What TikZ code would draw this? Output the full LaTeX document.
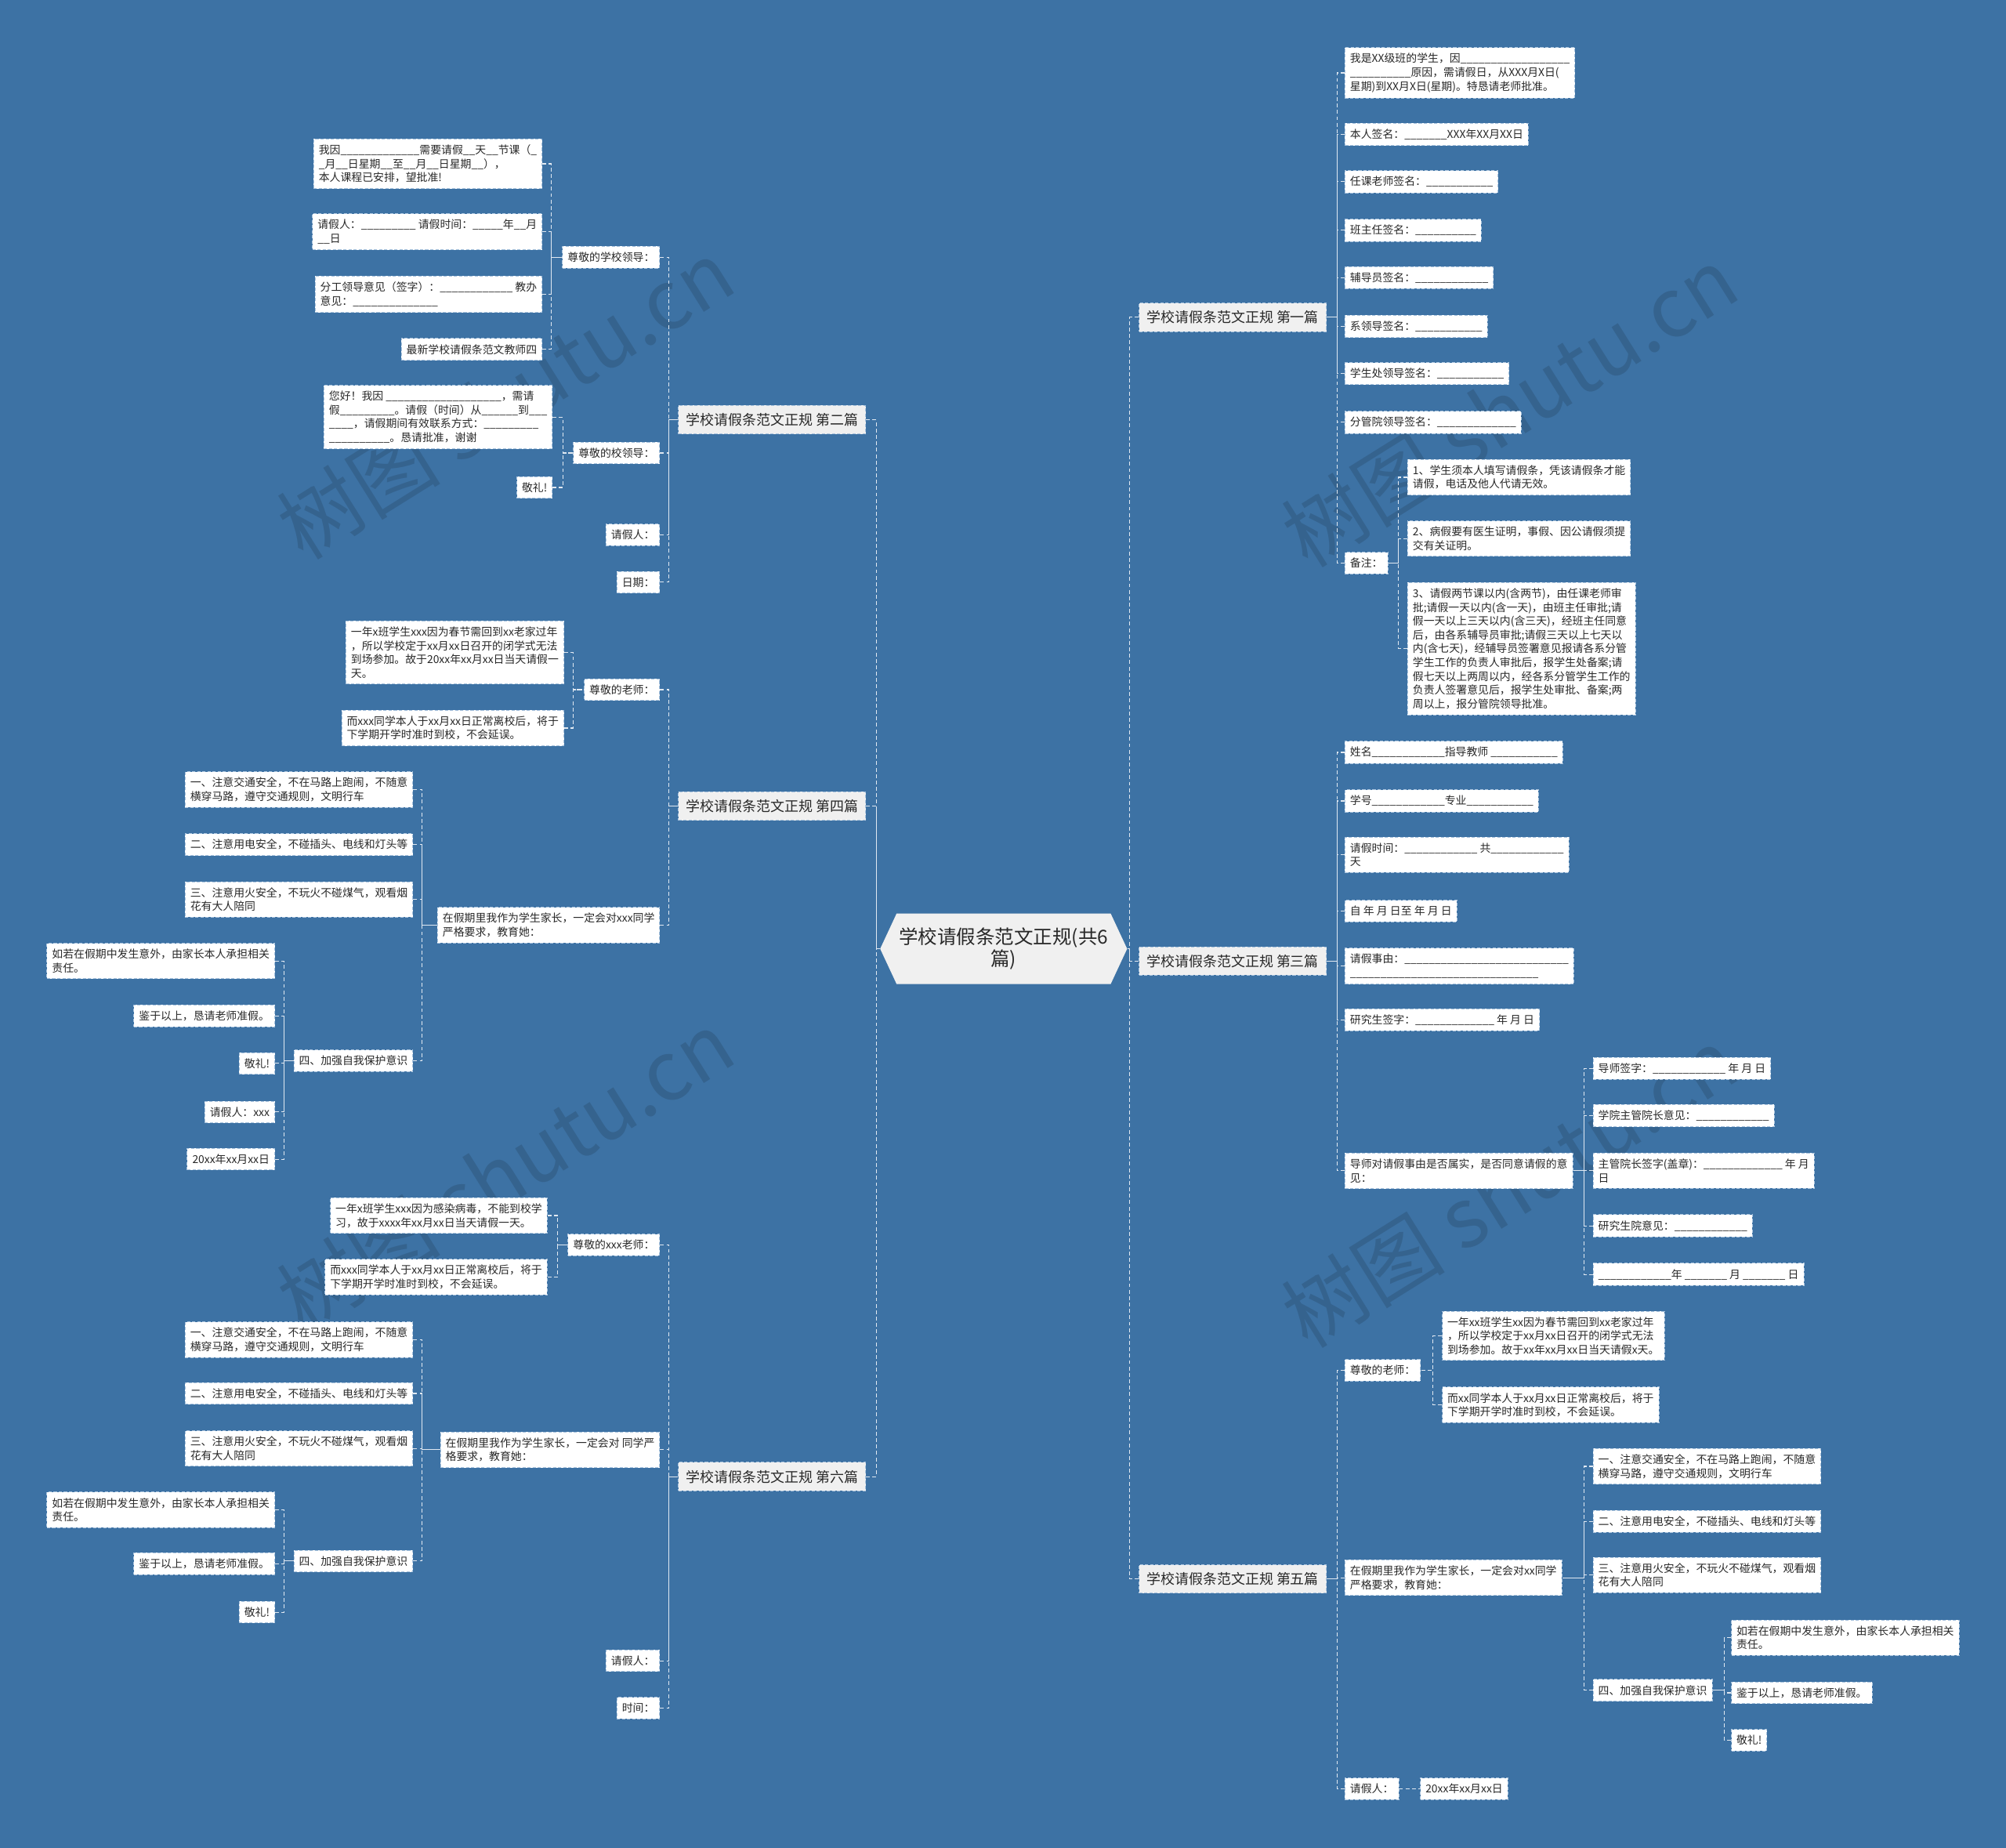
\documentclass[tikz,border=0pt]{standalone}
\usepackage{fontspec}
\setmainfont{Noto Sans CJK SC}
\usepackage{tikz}
\usetikzlibrary{shapes.symbols}
\definecolor{mapblue}{RGB}{61,114,164}
\definecolor{boxedge}{RGB}{170,196,222}
\definecolor{linkgray}{RGB}{225,233,242}
\definecolor{topicgray}{RGB}{240,240,240}
\definecolor{inkgray}{RGB}{40,40,40}
\ExplSyntaxOn
\cs_new:Npn \fillin #1 { \prg_replicate:nn {#1} { \_ } }
\ExplSyntaxOff

\begin{document}
\begin{tikzpicture}[x=1pt,y=-1pt,
    leaf/.style={draw=boxedge,fill=white,text=inkgray,line width=0.6pt,
      dash pattern=on 2.5pt off 1.5pt,align=left,inner xsep=4pt,inner ysep=4.5pt,
      font=\fontsize{8.5}{10.8}\selectfont},
    branch/.style={leaf,fill=topicgray,inner xsep=6pt,inner ysep=6pt,
      font=\fontsize{11}{13}\selectfont},
    topic/.style={signal,signal to=east and west,signal pointer angle=130,
      fill=topicgray,text=inkgray,align=center,minimum width=178pt,
      minimum height=55pt,inner sep=2pt,font=\fontsize{15}{17}\selectfont},
    link/.style={draw=linkgray,line width=0.7pt,dash pattern=on 3pt off 2pt},
    wmark/.style={text=black,opacity=0.13,rotate=32,font=\fontsize{64}{64}\selectfont}]
  \useasboundingbox (0,0) rectangle (1568,1444);
  \fill[mapblue] (0,0) rectangle (1568,1444);

  % watermarks
  \node[wmark] (wm1) at (395,312) {树图 shutu.cn};
  \node[wmark] (wm2) at (1180,318) {树图 shutu.cn};
  \node[wmark] (wm3) at (395,915) {树图 shutu.cn};
  \node[wmark] (wm4) at (1180,928) {树图 shutu.cn};

  % centre and the six pieces
  \node[topic] (root) at (784.5,741.5) {学校请假条范文正规(共6\\篇)};
  \node[branch,anchor=west] (s1) at (890,248) {学校请假条范文正规 第一篇};
  \node[branch,anchor=west] (s3) at (890,751) {学校请假条范文正规 第三篇};
  \node[branch,anchor=west] (s5) at (890,1234) {学校请假条范文正规 第五篇};
  \node[branch,anchor=east] (s2) at (677,328) {学校请假条范文正规 第二篇};
  \node[branch,anchor=east] (s4) at (677,630) {学校请假条范文正规 第四篇};
  \node[branch,anchor=east] (s6) at (677,1154) {学校请假条范文正规 第六篇};

  % first piece
  \node[leaf,anchor=west] (s1a) at (1051,57) {我是XX级班的学生，因\fillin{18}\\\fillin{10}原因，需请假日，从XXX月X日(\\星期)到XX月X日(星期)。特恳请老师批准。};
  \node[leaf,anchor=west] (s1b) at (1051,105) {本人签名：\fillin{7}XXX年XX月XX日};
  \node[leaf,anchor=west] (s1c) at (1051,142) {任课老师签名：\fillin{11}};
  \node[leaf,anchor=west] (s1d) at (1051,180) {班主任签名：\fillin{10}};
  \node[leaf,anchor=west] (s1e) at (1051,217) {辅导员签名：\fillin{12}};
  \node[leaf,anchor=west] (s1f) at (1051,255) {系领导签名：\fillin{11}};
  \node[leaf,anchor=west] (s1g) at (1051,292) {学生处领导签名：\fillin{11}};
  \node[leaf,anchor=west] (s1h) at (1051,330) {分管院领导签名：\fillin{13}};
  \node[leaf,anchor=west] (s1i) at (1051,440) {备注：};
  \node[leaf,anchor=west] (n1) at (1100,373) {1、学生须本人填写请假条，凭该请假条才能\\请假，电话及他人代请无效。};
  \node[leaf,anchor=west] (n2) at (1100,421) {2、病假要有医生证明，事假、因公请假须提\\交有关证明。};
  \node[leaf,anchor=west] (n3) at (1100,507) {3、请假两节课以内(含两节)，由任课老师审\\批;请假一天以内(含一天)，由班主任审批;请\\假一天以上三天以内(含三天)，经班主任同意\\后，由各系辅导员审批;请假三天以上七天以\\内(含七天)，经辅导员签署意见报请各系分管\\学生工作的负责人审批后，报学生处备案;请\\假七天以上两周以内，经各系分管学生工作的\\负责人签署意见后，报学生处审批、备案;两\\周以上，报分管院领导批准。};

  % third piece
  \node[leaf,anchor=west] (t1) at (1051,588) {姓名\fillin{12}指导教师 \fillin{11}};
  \node[leaf,anchor=west] (t2) at (1051,626) {学号\fillin{12}专业\fillin{11}};
  \node[leaf,anchor=west] (t3) at (1051,668) {请假时间：\fillin{12} 共\fillin{12}\\天};
  \node[leaf,anchor=west] (t4) at (1051,712) {自 年 月 日至 年 月 日};
  \node[leaf,anchor=west] (t5) at (1051,755) {请假事由：\fillin{27}\\\fillin{31}};
  \node[leaf,anchor=west] (t6) at (1051,797) {研究生签字：\fillin{13} 年 月 日};
  \node[leaf,anchor=west] (t7) at (1051,915) {导师对请假事由是否属实，是否同意请假的意\\见：};
  \node[leaf,anchor=west] (u1) at (1245,835) {导师签字：\fillin{12} 年 月 日};
  \node[leaf,anchor=west] (u2) at (1245,872) {学院主管院长意见：\fillin{12}};
  \node[leaf,anchor=west] (u3) at (1245,915) {主管院长签字(盖章)：\fillin{13} 年 月\\日};
  \node[leaf,anchor=west] (u4) at (1245,958) {研究生院意见：\fillin{12}};
  \node[leaf,anchor=west] (u5) at (1245,996) {\fillin{12}年 \fillin{7} 月 \fillin{7} 日};

  % fifth piece
  \node[leaf,anchor=west] (f1) at (1051,1071) {尊敬的老师：};
  \node[leaf,anchor=west] (f1a) at (1127,1044) {一年xx班学生xx因为春节需回到xx老家过年\\，所以学校定于xx月xx日召开的闭学式无法\\到场参加。故于xx年xx月xx日当天请假x天。};
  \node[leaf,anchor=west] (f1b) at (1127,1098) {而xx同学本人于xx月xx日正常离校后，将于\\下学期开学时准时到校，不会延误。};
  \node[leaf,anchor=west] (f2) at (1051,1233) {在假期里我作为学生家长，一定会对xx同学\\严格要求，教育她：};
  \node[leaf,anchor=west] (f2a) at (1245,1146) {一、注意交通安全，不在马路上跑闹，不随意\\横穿马路，遵守交通规则，文明行车};
  \node[leaf,anchor=west] (f2b) at (1245,1189) {二、注意用电安全，不碰插头、电线和灯头等};
  \node[leaf,anchor=west] (f2c) at (1245,1231) {三、注意用火安全，不玩火不碰煤气，观看烟\\花有大人陪同};
  \node[leaf,anchor=west] (f2d) at (1245,1321) {四、加强自我保护意识};
  \node[leaf,anchor=west] (f2d1) at (1353,1280) {如若在假期中发生意外，由家长本人承担相关\\责任。};
  \node[leaf,anchor=west] (f2d2) at (1353,1323) {鉴于以上，恳请老师准假。};
  \node[leaf,anchor=west] (f2d3) at (1353,1360) {敬礼!};
  \node[leaf,anchor=west] (f3) at (1051,1398) {请假人：};
  \node[leaf,anchor=west] (f3a) at (1110,1398) {20xx年xx月xx日};

  % second piece
  \node[leaf,anchor=east] (e1) at (516,201) {尊敬的学校领导：};
  \node[leaf,anchor=east] (e1a) at (424,128) {我因\fillin{13}需要请假\fillin{2}天\fillin{2}节课（\_\\\_月\fillin{2}日星期\fillin{2}至\fillin{2}月\fillin{2}日星期\fillin{2}），\\本人课程已安排，望批准!};
  \node[leaf,anchor=east] (e1b) at (424,181) {请假人：\fillin{9} 请假时间：\fillin{5}年\fillin{2}月\\\fillin{2}日};
  \node[leaf,anchor=east] (e1c) at (424,230) {分工领导意见（签字）：\fillin{12} 教办\\意见：\fillin{14}};
  \node[leaf,anchor=east] (e1d) at (424,273) {最新学校请假条范文教师四};
  \node[leaf,anchor=east] (e2) at (516,354) {尊敬的校领导：};
  \node[leaf,anchor=east] (e2a) at (432,326) {您好！我因 \fillin{19}，需请\\假\fillin{9}。请假（时间）从\fillin{6}到\fillin{3}\\\fillin{4}，请假期间有效联系方式：\fillin{9}\\\fillin{10}。恳请批准，谢谢};
  \node[leaf,anchor=east] (e2b) at (432,381) {敬礼!};
  \node[leaf,anchor=east] (e3) at (516,418) {请假人：};
  \node[leaf,anchor=east] (e4) at (516,455) {日期：};

  % fourth piece
  \node[leaf,anchor=east] (g1) at (516,539) {尊敬的老师：};
  \node[leaf,anchor=east] (g1a) at (441,510) {一年x班学生xxx因为春节需回到xx老家过年\\，所以学校定于xx月xx日召开的闭学式无法\\到场参加。故于20xx年xx月xx日当天请假一\\天。};
  \node[leaf,anchor=east] (g1b) at (441,569) {而xxx同学本人于xx月xx日正常离校后，将于\\下学期开学时准时到校，不会延误。};
  \node[leaf,anchor=east] (g2) at (516,723) {在假期里我作为学生家长，一定会对xxx同学\\严格要求，教育她：};
  \node[leaf,anchor=east] (g2a) at (323,617) {一、注意交通安全，不在马路上跑闹，不随意\\横穿马路，遵守交通规则，文明行车};
  \node[leaf,anchor=east] (g2b) at (323,660) {二、注意用电安全，不碰插头、电线和灯头等};
  \node[leaf,anchor=east] (g2c) at (323,703) {三、注意用火安全，不玩火不碰煤气，观看烟\\花有大人陪同};
  \node[leaf,anchor=east] (g2d) at (323,829) {四、加强自我保护意识};
  \node[leaf,anchor=east] (g2d1) at (215,751) {如若在假期中发生意外，由家长本人承担相关\\责任。};
  \node[leaf,anchor=east] (g2d2) at (215,794) {鉴于以上，恳请老师准假。};
  \node[leaf,anchor=east] (g2d3) at (215,831) {敬礼!};
  \node[leaf,anchor=east] (g2d4) at (215,869) {请假人：xxx};
  \node[leaf,anchor=east] (g2d5) at (215,906) {20xx年xx月xx日};

  % sixth piece
  \node[leaf,anchor=east] (h1) at (516,973) {尊敬的xxx老师：};
  \node[leaf,anchor=east] (h1a) at (428,950) {一年x班学生xxx因为感染病毒，不能到校学\\习，故于xxxx年xx月xx日当天请假一天。};
  \node[leaf,anchor=east] (h1b) at (428,998) {而xxx同学本人于xx月xx日正常离校后，将于\\下学期开学时准时到校，不会延误。};
  \node[leaf,anchor=east] (h2) at (516,1133) {在假期里我作为学生家长，一定会对 同学严\\格要求，教育她：};
  \node[leaf,anchor=east] (h2a) at (323,1047) {一、注意交通安全，不在马路上跑闹，不随意\\横穿马路，遵守交通规则，文明行车};
  \node[leaf,anchor=east] (h2b) at (323,1089) {二、注意用电安全，不碰插头、电线和灯头等};
  \node[leaf,anchor=east] (h2c) at (323,1132) {三、注意用火安全，不玩火不碰煤气，观看烟\\花有大人陪同};
  \node[leaf,anchor=east] (h2d) at (323,1220) {四、加强自我保护意识};
  \node[leaf,anchor=east] (h2d1) at (215,1180) {如若在假期中发生意外，由家长本人承担相关\\责任。};
  \node[leaf,anchor=east] (h2d2) at (215,1222) {鉴于以上，恳请老师准假。};
  \node[leaf,anchor=east] (h2d3) at (215,1260) {敬礼!};
  \node[leaf,anchor=east] (h3) at (516,1298) {请假人：};
  \node[leaf,anchor=east] (h4) at (516,1335) {时间：};

  % connectors, right side
  \foreach \c in {s1,s3,s5}
    \draw[link] (\c.west) -- ++(-7,0) |- (root.east);
  \foreach \c in {s1a,s1b,s1c,s1d,s1e,s1f,s1g,s1h,s1i}
    \draw[link] (\c.west) -- ++(-6,0) |- (s1.east);
  \foreach \c in {n1,n2,n3}
    \draw[link] (\c.west) -- ++(-7,0) |- (s1i.east);
  \foreach \c in {t1,t2,t3,t4,t5,t6,t7}
    \draw[link] (\c.west) -- ++(-6,0) |- (s3.east);
  \foreach \c in {u1,u2,u3,u4,u5}
    \draw[link] (\c.west) -- ++(-7,0) |- (t7.east);
  \foreach \c in {f1,f2,f3}
    \draw[link] (\c.west) -- ++(-6,0) |- (s5.east);
  \foreach \c in {f1a,f1b}
    \draw[link] (\c.west) -- ++(-7,0) |- (f1.east);
  \foreach \c in {f2a,f2b,f2c,f2d}
    \draw[link] (\c.west) -- ++(-7,0) |- (f2.east);
  \foreach \c in {f2d1,f2d2,f2d3}
    \draw[link] (\c.west) -- ++(-5,0) |- (f2d.east);
  \draw[link] (f3.east) -- (f3a.west);

  % connectors, left side
  \foreach \c in {s2,s4,s6}
    \draw[link] (\c.east) -- ++(8,0) |- (root.west);
  \foreach \c in {e1,e2,e3,e4}
    \draw[link] (\c.east) -- ++(7,0) |- (s2.west);
  \foreach \c in {e1a,e1b,e1c,e1d}
    \draw[link] (\c.east) -- ++(7,0) |- (e1.west);
  \foreach \c in {e2a,e2b}
    \draw[link] (\c.east) -- ++(8,0) |- (e2.west);
  \foreach \c in {g1,g2}
    \draw[link] (\c.east) -- ++(7,0) |- (s4.west);
  \foreach \c in {g1a,g1b}
    \draw[link] (\c.east) -- ++(7,0) |- (g1.west);
  \foreach \c in {g2a,g2b,g2c,g2d}
    \draw[link] (\c.east) -- ++(7,0) |- (g2.west);
  \foreach \c in {g2d1,g2d2,g2d3,g2d4,g2d5}
    \draw[link] (\c.east) -- ++(7,0) |- (g2d.west);
  \foreach \c in {h1,h2,h3,h4}
    \draw[link] (\c.east) -- ++(7,0) |- (s6.west);
  \foreach \c in {h1a,h1b}
    \draw[link] (\c.east) -- ++(8,0) |- (h1.west);
  \foreach \c in {h2a,h2b,h2c,h2d}
    \draw[link] (\c.east) -- ++(7,0) |- (h2.west);
  \foreach \c in {h2d1,h2d2,h2d3}
    \draw[link] (\c.east) -- ++(7,0) |- (h2d.west);
\end{tikzpicture}
\end{document}
